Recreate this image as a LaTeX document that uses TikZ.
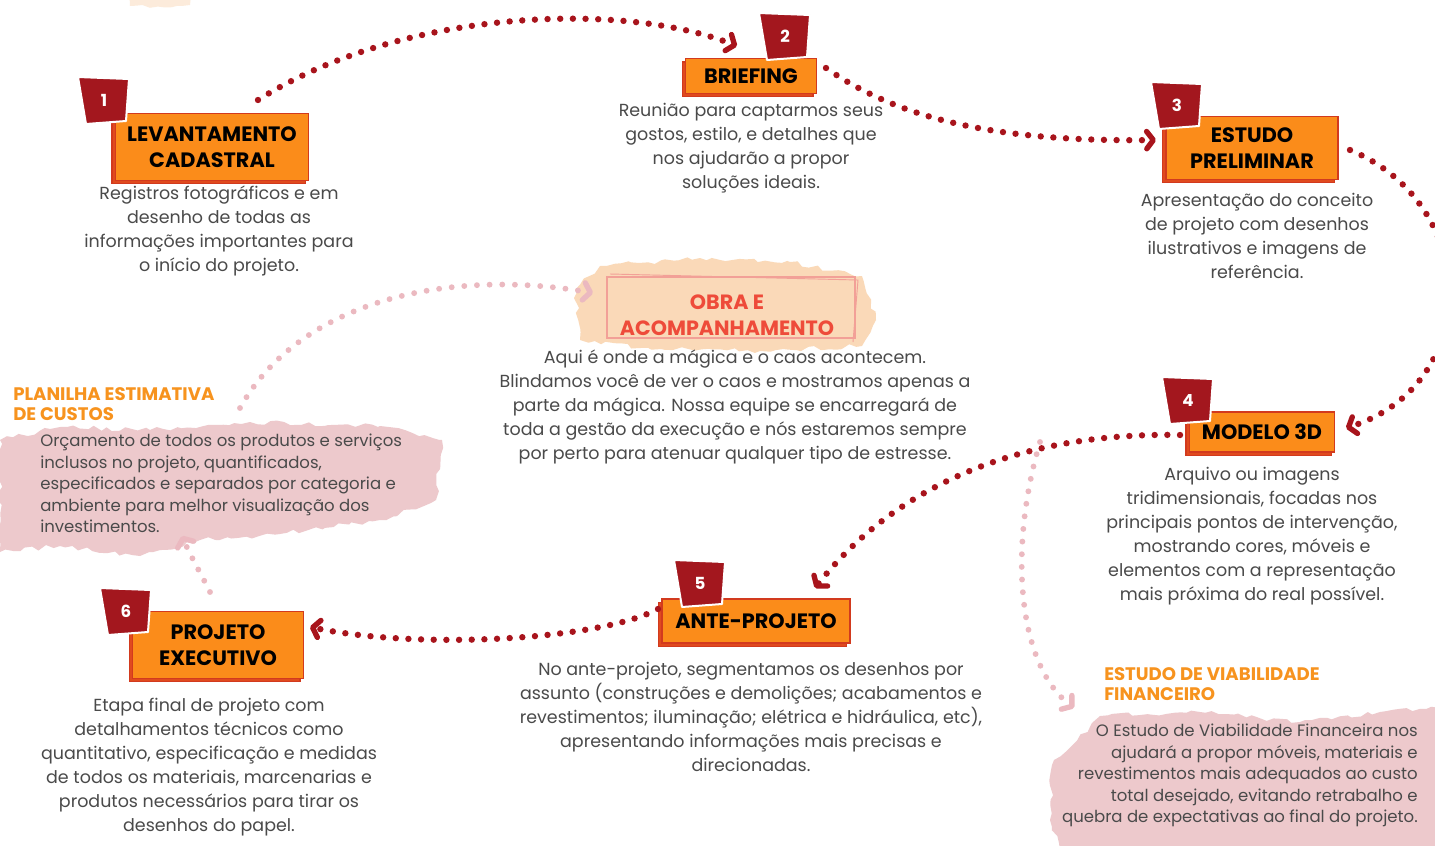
\documentclass[tikz,border=0pt]{standalone}
\usepackage{fontspec}
\setmainfont{Poppins}
\usetikzlibrary{arrows.meta,shadows,decorations.pathmorphing}
\definecolor{boxorange}{HTML}{FB8C1A}
\definecolor{boxred}{HTML}{E04A1E}
\definecolor{boxedge}{HTML}{D23A1E}
\definecolor{tagred}{HTML}{A3171E}
\definecolor{dotred}{HTML}{A8141C}
\definecolor{pinkdot}{HTML}{EBB9C0}
\definecolor{pinkblob}{HTML}{EDC9CC}
\definecolor{peachblob}{HTML}{FAD9B8}
\definecolor{obrared}{HTML}{EE4B3A}
\definecolor{obraframe}{HTML}{F2A097}
\definecolor{titleorange}{HTML}{F7931E}
\definecolor{bodygray}{HTML}{4A4A4A}
\tikzset{
  body/.style={text=bodygray, align=center, anchor=north, inner sep=0pt, font=\fontsize{13.1}{18}\selectfont},
  smallbody/.style={text=bodygray, inner sep=0pt, font=\fontsize{12.4}{16.1}\selectfont},
  sidetitle/.style={text=titleorange, align=left, anchor=north west, inner sep=0pt, font=\bfseries\fontsize{13.6}{15}\selectfont},
  stepbox/.style={fill=boxorange, draw=boxedge, line width=1pt, align=center, inner sep=0pt,
     font=\bfseries\fontsize{15.6}{19.5}\selectfont, text=black,
     copy shadow={shadow xshift=-2.5pt, shadow yshift=-2.5pt, fill=boxred, draw=boxedge}},
  tagnum/.style={text=white, font=\bfseries\fontsize{12.5}{12.5}\selectfont, inner sep=0pt},
  tagshape/.style={fill=tagred, draw=white, line width=1.5pt, line join=round},
  reddots/.style={draw=dotred, line width=4.8pt, line cap=round, dash pattern=on 0pt off 9.5pt,
     -{Straight Barb[round, length=5pt, width=13pt, line width=4pt]}},
  pinkdots/.style={draw=pinkdot, line width=4.4pt, line cap=round, dash pattern=on 0pt off 9.5pt,
     -{Straight Barb[round, length=5pt, width=13pt, line width=4pt]}},
  blob/.style={decorate, decoration={random steps, segment length=5pt, amplitude=1.8pt}},
}
\newcommand{\steptag}[3]{%
  \begin{scope}[shift={#2}]
    \draw[tagshape] (-26,-23) -- (25,-21) -- (22,21) -- (-18,24) -- cycle;
    \node[tagnum] (#1) at (0,0) {#3};
  \end{scope}}
\begin{document}
\begin{tikzpicture}[x=0.75pt, y=-0.75pt]
\pgfmathsetseed{7}
\useasboundingbox (0,0) rectangle (1435,846);
\clip (0,0) rectangle (1435,846);
\fill[white] (0,0) rectangle (1435,846);

% background blobs
\fill[peachblob, opacity=0.5, blob] (125,-10) -- (195,-10) -- (190,5) -- (130,6) -- cycle;
\fill[pinkblob, blob] (0,440) -- (60,427) -- (150,430) -- (250,422) -- (380,426) -- (442,440)
   -- (436,500) -- (380,520) -- (280,534) -- (200,540) -- (140,556) -- (60,546) -- (0,552) -- cycle;
\fill[pinkblob, blob] (1052,765) -- (1100,716) -- (1200,712) -- (1300,722) -- (1380,712) -- (1440,708)
   -- (1440,850) -- (1060,850) -- (1050,820) -- cycle;
\fill[peachblob, blob] (575,290) -- (600,266) -- (700,258) -- (790,262) -- (862,276) -- (876,320)
   -- (862,346) -- (760,351) -- (640,348) -- (580,340) -- cycle;
\draw[obraframe, line width=1pt] (607,277) rectangle (855,338);
\draw[obraframe, line width=0.7pt] (610,274) -- (858,280) -- (853,342);

% step boxes
\node[stepbox, minimum width=145pt, minimum height=50pt] (b1) at (212,147) {LEVANTAMENTO\\CADASTRAL};
\node[stepbox, minimum width=98pt, minimum height=26pt] (b2) at (751,76) {BRIEFING};
\node[stepbox, minimum width=129pt, minimum height=47pt] (b3) at (1252,148) {ESTUDO\\PRELIMINAR};
\node[stepbox, minimum width=109pt, minimum height=30pt] (b4) at (1262,432) {MODELO 3D};
\node[stepbox, minimum width=141pt, minimum height=33pt] (b5) at (756,621) {ANTE-PROJETO};
\node[stepbox, minimum width=128pt, minimum height=50pt] (b6) at (218,645) {PROJETO\\EXECUTIVO};

\steptag{t1}{(104,100)}{1}
\steptag{t2}{(785,36)}{2}
\steptag{t3}{(1177,105)}{3}
\steptag{t4}{(1188,400)}{4}
\steptag{t5}{(700,583)}{5}
\steptag{t6}{(126,611)}{6}

% descriptions
\node[body] (d1) at (219,186) {Registros fotográficos e em\\desenho de todas as\\informações importantes para\\o início do projeto.};
\node[body] (d2) at (751,103) {Reunião para captarmos seus\\gostos, estilo, e detalhes que\\nos ajudarão a propor\\soluções ideais.};
\node[body] (d3) at (1257,193) {Apresentação do conceito\\de projeto com desenhos\\ilustrativos e imagens de\\referência.};
\node[body] (d4) at (1252,467) {Arquivo ou imagens\\tridimensionais, focadas nos\\principais pontos de intervenção,\\mostrando cores, móveis e\\elementos com a representação\\mais próxima do real possível.};
\node[body] (d5) at (751,662) {No ante-projeto, segmentamos os desenhos por\\assunto (construções e demolições; acabamentos e\\revestimentos; iluminação; elétrica e hidráulica, etc),\\apresentando informações mais precisas e\\direcionadas.};
\node[body] (d6) at (209,698) {Etapa final de projeto com\\detalhamentos técnicos como\\quantitativo, especificação e medidas\\de todos os materiais, marcenarias e\\produtos necessários para tirar os\\desenhos do papel.};

\node[text=obrared, align=center, inner sep=0pt, font=\bfseries\fontsize{15.5}{19.5}\selectfont] (obra) at (727,315) {OBRA E\\ACOMPANHAMENTO};
\node[body] (dobra) at (735,350) {Aqui é onde a mágica e o caos acontecem.\\Blindamos você de ver o caos e mostramos apenas a\\parte da mágica. Nossa equipe se encarregará de\\toda a gestão da execução e nós estaremos sempre\\por perto para atenuar qualquer tipo de estresse.};

\node[sidetitle] (plan) at (13,387) {PLANILHA ESTIMATIVA\\DE CUSTOS};
\node[smallbody, align=left, anchor=north west] (dplan) at (40,434) {Orçamento de todos os produtos e serviços\\inclusos no projeto, quantificados,\\especificados e separados por categoria e\\ambiente para melhor visualização dos\\investimentos.};

\node[sidetitle] (viab) at (1104,667) {ESTUDO DE VIABILIDADE\\FINANCEIRO};
\node[smallbody, align=right, anchor=north east] (dviab) at (1418,724) {O Estudo de Viabilidade Financeira nos\\ajudará a propor móveis, materiais e\\revestimentos mais adequados ao custo\\total desejado, evitando retrabalho e\\quebra de expectativas ao final do projeto.};

% connector end points
\coordinate (c1s) at (258,100);
\coordinate (c1e) at (737,46);
\coordinate (c2s) at (826,68);
\coordinate (c2e) at (1156,140);
\coordinate (c3s) at (1350,150);
\coordinate (c3e) at (1346,428);
\coordinate (c4s) at (1180,435);
\coordinate (c4e) at (815,588);
\coordinate (c5s) at (658,609);
\coordinate (c5e) at (310,627);
\coordinate (p1s) at (210,592);
\coordinate (p1e) at (182,536);
\coordinate (p2s) at (240,408);
\coordinate (p2e) at (593,293);
\coordinate (p3s) at (1040,442);
\coordinate (p3e) at (1074,708);

% pink connectors
\draw[pinkdots] (p1s) .. controls (200,572) and (190,555) .. (p1e);
\draw[pinkdots] (p2s) .. controls (300,300) and (450,268) .. (p2e);
\draw[pinkdots] (p3s) .. controls (1008,550) and (1018,665) .. (p3e);

% red connectors
\draw[reddots] (c1s) .. controls (400,10) and (620,0) .. (c1e);
\draw[reddots] (c2s) .. controls (900,120) and (1000,142) .. (c2e);
\draw[reddots] (c3s) .. controls (1482,205) and (1482,385) .. (c3e);
\draw[reddots] (c4s) .. controls (1030,432) and (900,480) .. (c4e);
\draw[reddots] (c5s) .. controls (600,640) and (420,650) .. (c5e);
\end{tikzpicture}
\end{document}
